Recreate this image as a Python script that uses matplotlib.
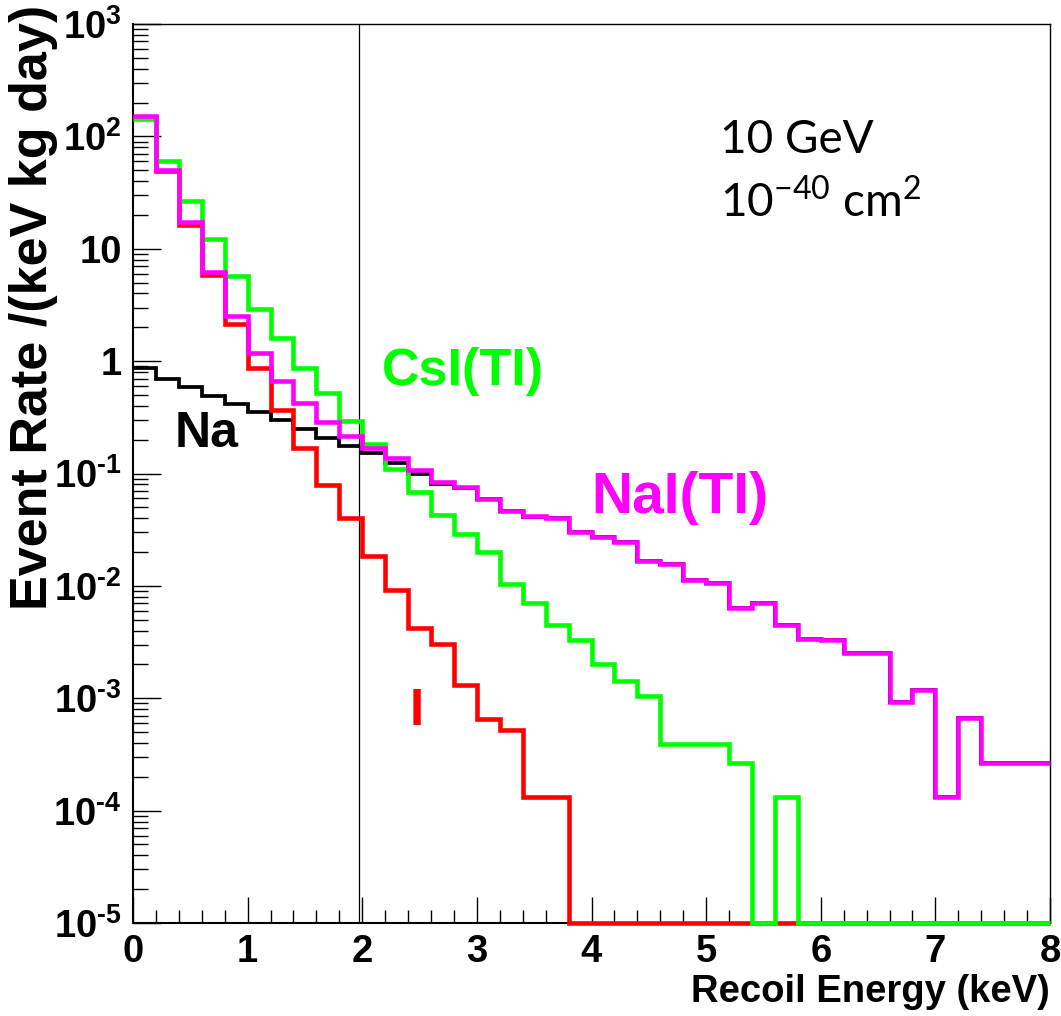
"""Recoil energy spectra for a 10 GeV WIMP in NaI(Tl) and CsI(Tl)."""

import numpy as np
import matplotlib

matplotlib.use("Agg")
import matplotlib.pyplot as plt
from matplotlib.ticker import MultipleLocator, LogLocator, FuncFormatter, NullFormatter

# binning: 40 bins of 0.2 keV from 0 to 8 keV
bin_edges = np.linspace(0.0, 8.0, 41)

# event rates per bin (keV kg day)^-1; 0 = empty bin
rate_na = [0.87, 0.69, 0.593, 0.493, 0.416, 0.35, 0.30, 0.25, 0.206, 0.174,
           0.152, 0.124, 0.100, 0.081, 0.074, 0.059, 0.046, 0.041, 0.040, 0.030,
           0.027, 0.0244, 0.0165, 0.0157, 0.0112, 0.0106, 0.0064, 0.0071, 0.00446, 0.0034,
           0.00333, 0.00251, 0.00251, 0.00092, 0.00119, 0.000131, 0.000665, 0.000263, 0.000263, 0.000263]

rate_i = [150.0, 49.0, 16.4, 5.8, 2.14, 0.86, 0.368, 0.17, 0.079, 0.040,
          0.0183, 0.0091, 0.0042, 0.00302, 0.00132, 0.000655, 0.000526, 0.000132, 0.000132, 0,
          0, 0, 0, 0, 0, 0, 0, 0, 0, 0,
          0, 0, 0, 0, 0, 0, 0, 0, 0, 0]

rate_csi = [144.0, 60.5, 26.7, 12.1, 5.7, 2.89, 1.6, 0.875, 0.518, 0.296,
            0.183, 0.109, 0.069, 0.043, 0.0287, 0.0199, 0.0104, 0.00703, 0.00452, 0.00333,
            0.002, 0.00143, 0.00105, 0.000393, 0.000393, 0.000393, 0.000266, 0, 0.000132, 0,
            0, 0, 0, 0, 0, 0, 0, 0, 0, 0]

rate_nai = [152.0, 50.0, 17.4, 6.25, 2.52, 1.19, 0.667, 0.42, 0.286, 0.216,
            0.168, 0.136, 0.108, 0.084, 0.0766, 0.0598, 0.0468, 0.0415, 0.0405, 0.030,
            0.027, 0.0244, 0.0165, 0.0157, 0.0112, 0.0106, 0.0064, 0.0071, 0.00446, 0.0034,
            0.00333, 0.00251, 0.00251, 0.00092, 0.00119, 0.000131, 0.000665, 0.000263, 0.000263, 0.000263]

threshold_kev = 1.975
y_min, y_max = 1e-5, 1e3

GREEN = "#00ff00"
MAGENTA = "#ff00ff"
RED = "#ff0000"

plt.rcParams.update({
    "font.family": ["Liberation Sans", "DejaVu Sans"],
    "font.weight": "bold",
    "axes.labelweight": "bold",
    "mathtext.fontset": "custom",
    "mathtext.rm": "Liberation Sans:bold",
    "mathtext.bf": "Liberation Sans:bold",
    "mathtext.it": "Liberation Sans:bold",
})

fig = plt.figure(figsize=(10.61, 10.16), dpi=100)
ax = fig.add_axes([133 / 1061, 93 / 1016, 917 / 1061, 899 / 1016])

# draw order: Na, I, CsI, NaI (NaI on top)
for values, color, lw in [
    (rate_na, "black", 2.7),
    (rate_i, RED, 3.3),
    (rate_csi, GREEN, 3.3),
    (rate_nai, MAGENTA, 3.3),
]:
    vals = np.clip(np.asarray(values, dtype=float), y_min, None)
    ax.stairs(vals, bin_edges, baseline=None, color=color, lw=lw,
              clip_on=False, zorder=3)

ax.axvline(threshold_kev, color="black", lw=0.9, zorder=2.6)

ax.set_xlim(0, 8)
ax.set_yscale("log")
ax.set_ylim(y_min, y_max)

ax.xaxis.set_major_locator(MultipleLocator(1))
ax.xaxis.set_minor_locator(MultipleLocator(0.2))
ax.yaxis.set_major_locator(LogLocator(base=10, numticks=20))
ax.yaxis.set_minor_locator(LogLocator(base=10, subs=np.arange(2, 10), numticks=20))
ax.yaxis.set_minor_formatter(NullFormatter())


def log_label(v, pos):
    e = int(round(np.log10(v)))
    if e == 0:
        return "1"
    if e == 1:
        return "10"
    if e < 0:
        return r"10$^{\text{-}%d}$" % -e
    return r"10$^{%d}$" % e


ax.yaxis.set_major_formatter(FuncFormatter(log_label))

ax.tick_params(which="both", direction="in", top=False, right=False)
ax.tick_params(axis="x", which="major", length=18.7, width=1, pad=8, labelsize=27.5)
ax.tick_params(axis="x", which="minor", length=9.4, width=1)
ax.tick_params(axis="y", which="major", length=20, width=1, pad=8, labelsize=27.5)
ax.tick_params(axis="y", which="minor", length=10.8, width=1)

for side in ["left", "bottom"]:
    ax.spines[side].set_linewidth(1.5)
for side in ["top", "right"]:
    ax.spines[side].set_linewidth(1.0)

ax.set_xlabel("Recoil Energy (keV)", fontsize=27.5, fontweight="bold", loc="right")
ax.xaxis.set_label_coords(1.0, -0.057)
ax.set_ylabel("Event Rate /(keV kg day)", fontsize=37.5, fontweight="bold", loc="top")
ax.yaxis.set_label_coords(-0.082, 1.021)

# curve labels
ax.text(0.366, 0.172, "Na", fontsize=36, color="black")
ax.text(2.17, 0.61, "CsI(TI)", fontsize=37.5, color=GREEN)
ax.text(4.0, 0.0445, "NaI(TI)", fontsize=41, color=MAGENTA)
ax.text(2.417, 5.78e-4, "I", fontsize=37, color=RED)

# WIMP parameters
ax.text(0.640, 0.8565, "10 GeV", transform=ax.transAxes,
        family="Lato", weight="normal", fontsize=33)
ax.text(0.640, 0.785, r"10$^{\mathregular{-40}}$ cm$^{\mathregular{2}}$",
        transform=ax.transAxes, family="Lato", weight="normal", fontsize=33)

fig.savefig("out.png", dpi=100)
